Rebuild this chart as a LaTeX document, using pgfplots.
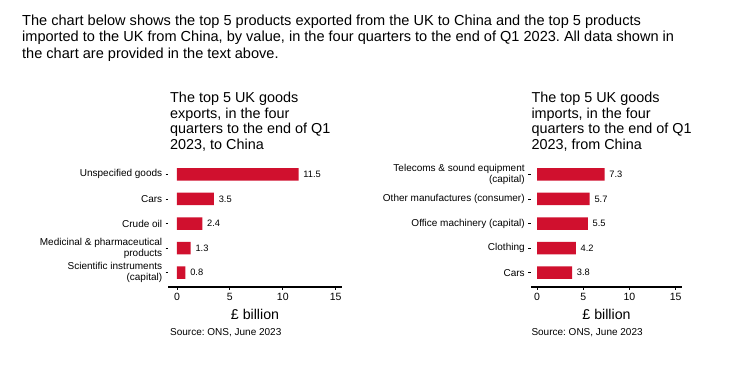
\documentclass[border=0pt]{standalone}
\usepackage{pgfplots}
\pgfplotsset{compat=1.18}
\usepackage{fontspec}
\setmainfont{Liberation Sans}
\definecolor{barred}{RGB}{208,16,46}
\frenchspacing
\begin{document}
\begin{tikzpicture}[x=1pt,y=1pt]
\useasboundingbox (0,0) rectangle (745,-369);
\pgfplotsset{
  mybar/.style={
    scale only axis, height=126.9pt, ymin=-0.58, ymax=4.58,
    xbar, bar width=12.5pt, bar shift=0pt,
    axis x line*=bottom, axis y line*=left,
    y axis line style={draw=none},
    x axis line style={line width=1.1pt},
    tick align=outside, major tick length=2.8pt,
    tick style={black, line width=0.8pt},
    xtick={0,5,10,15}, ytick={0,1,2,3,4},
    /pgf/number format/assume math mode=true,
    tick label style={font=\fontsize{10.5}{12}\selectfont},
    yticklabel style={font=\fontsize{10}{10.7}\selectfont, align=right},
    nodes near coords,
    nodes near coords style={font=\fontsize{9.3}{11}\selectfont, /pgf/number format/fixed, /pgf/number format/precision=1, xshift=1.3pt},
    enlarge y limits=false, clip=false,
  }
}
% heading
\begin{scope}[every node/.style={anchor=base west, inner sep=0pt, font=\fontsize{14.55}{16.3}\selectfont}]
\node at (22,-25.7) {The chart below shows the top 5 products exported from the UK to China and the top 5 products};
\node at (22,-42.0) {imported to the UK from China, by value, in the four quarters to the end of Q1 2023. All data shown in};
\node at (22,-58.3) {the chart are provided in the text above.};
\end{scope}
% titles
\begin{scope}[every node/.style={anchor=base west, inner sep=0pt, font=\fontsize{14.4}{16}\selectfont}]
\node at (170,-102.7) {The top 5 UK goods};
\node at (170,-118.3) {exports, in the four};
\node at (170,-133.9) {quarters to the end of Q1};
\node at (170,-149.5) {2023, to China};
\node at (531.3,-102.7) {The top 5 UK goods};
\node at (531.3,-118.3) {imports, in the four};
\node at (531.3,-133.9) {quarters to the end of Q1};
\node at (531.3,-149.5) {2023, from China};
\end{scope}
% left axis
\begin{axis}[mybar, at={(168.5pt,-287pt)}, anchor=south west, width=173.5pt,
  xmin=-0.80, xmax=15.6,
  yticklabels={{Scientific instruments\\(capital)},{Medicinal \& pharmaceutical\\products},{Crude oil},{Cars},{Unspecified goods}}]
\addplot[fill=barred, draw=none] coordinates {(0.8,0) (1.3,1) (2.4,2) (3.5,3) (11.5,4)};
\end{axis}
% right axis
\begin{axis}[mybar, at={(531pt,-287pt)}, anchor=south west, width=151.3pt,
  xmin=-0.65, xmax=15.71,
  yticklabels={{Cars},{Clothing},{Office machinery (capital)},{Other manufactures (consumer)},{Telecoms \& sound equipment\\(capital)}}]
\addplot[fill=barred, draw=none] coordinates {(3.8,0) (4.2,1) (5.5,2) (5.7,3) (7.3,4)};
\end{axis}
% axis labels and sources
\node[anchor=base, inner sep=0pt, font=\fontsize{14.2}{16}\selectfont] at (255,-319.3) {£ billion};
\node[anchor=base, inner sep=0pt, font=\fontsize{14.2}{16}\selectfont] at (606.5,-319.3) {£ billion};
\node[anchor=base west, inner sep=0pt, font=\fontsize{10}{12}\selectfont] at (170,-335) {Source: ONS, June 2023};
\node[anchor=base west, inner sep=0pt, font=\fontsize{10}{12}\selectfont] at (531.3,-335) {Source: ONS, June 2023};
\end{tikzpicture}
\end{document}
